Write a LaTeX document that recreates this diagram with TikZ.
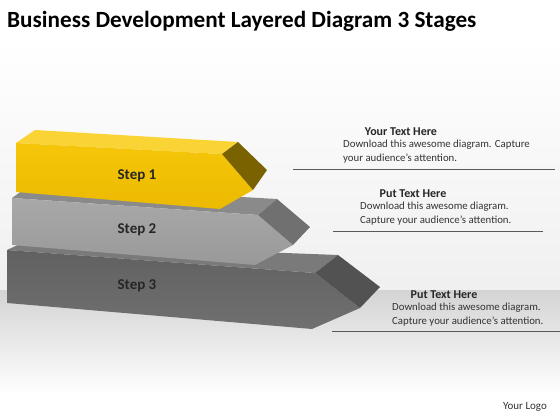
\documentclass[tikz,border=0pt]{standalone}
\usepackage{fontspec}
\setmainfont{Carlito}
\definecolor{goldfront}{RGB}{245,198,10}
\definecolor{golddeep}{RGB}{236,186,0}
\definecolor{goldtop}{RGB}{250,212,52}
\definecolor{goldcap}{RGB}{122,98,0}
\begin{document}
\begin{tikzpicture}[x=1pt,y=-1pt,
  steplabel/.style={font=\bfseries\fontsize{15}{17}\selectfont,text=black!85},
  headtext/.style={font=\bfseries\fontsize{12}{14}\selectfont,text=black!85},
  bodytext/.style={font=\fontsize{10.8}{13.5}\selectfont,align=left,inner sep=0pt,anchor=north west,text=black!80},
  textrule/.style={draw=black!65,line width=0.7pt}]
\useasboundingbox (0,0) rectangle (560,420);
% background and floor
\fill[white] (0,0) rectangle (560,420);
\shade[top color=white,bottom color=black!6] (0,40) rectangle (560,290);
\shade[top color=black!17,bottom color=white] (0,290) rectangle (560,395);
% step 3
\fill[black!52] (7,250) -- (22,243) -- (338,255) -- (315,273) -- cycle;
\shade[top color=black!62,bottom color=black!56] (7,250) -- (315,273) -- (360,308) -- (312,329) -- (7,303) -- cycle;
\fill[black!68] (315,273) -- (338,255) -- (380,287) -- (360,308) -- cycle;
% step 2
\fill[black!46] (12,198) -- (30,185) -- (277,199) -- (258,215) -- cycle;
\shade[top color=black!34,bottom color=black!40] (12,198) -- (258,215) -- (293,245) -- (255,265) -- (12,245) -- cycle;
\fill[black!56] (258,215) -- (277,199) -- (310,227) -- (293,245) -- cycle;
% step 1
\fill[goldtop] (16,143) -- (35,130) -- (238,142) -- (222,154) -- cycle;
\shade[top color=goldfront,bottom color=golddeep] (16,143) -- (222,154) -- (253,190) -- (220,209) -- (16,192) -- cycle;
\fill[goldcap] (222,154) -- (238,142) -- (267,170) -- (253,190) -- cycle;
% labels
\node[steplabel] (s1) at (137,176) {Step 1};
\node[steplabel] (s2) at (137,230) {Step 2};
\node[steplabel] (s3) at (137,286) {Step 3};
% title
\node[anchor=west,inner sep=0pt,font=\bfseries\fontsize{23.2}{26}\selectfont] (title) at (7,21) {Business Development Layered Diagram 3 Stages};
% text blocks
\node[headtext] (h1) at (401,132) {Your Text Here};
\node[bodytext] (b1) at (343,140) {Download this awesome diagram. Capture\\your audience’s attention.};
\coordinate (r1a) at (293,169);
\coordinate (r1b) at (555,169);
\draw[textrule] (r1a) -- (r1b);
\node[headtext] (h2) at (413,194) {Put Text Here};
\node[bodytext] (b2) at (360,202) {Download this awesome diagram.\\Capture your audience’s attention.};
\coordinate (r2a) at (333,231);
\coordinate (r2b) at (543,231);
\draw[textrule] (r2a) -- (r2b);
\node[headtext] (h3) at (444,295) {Put Text Here};
\node[bodytext] (b3) at (392,303) {Download this awesome diagram.\\Capture your audience’s attention.};
\coordinate (r3a) at (332,331);
\coordinate (r3b) at (560,331);
\draw[textrule] (r3a) -- (r3b);
\node[font=\fontsize{11}{13}\selectfont,text=black!80] (logo) at (525,407) {Your Logo};
\end{tikzpicture}
\end{document}
